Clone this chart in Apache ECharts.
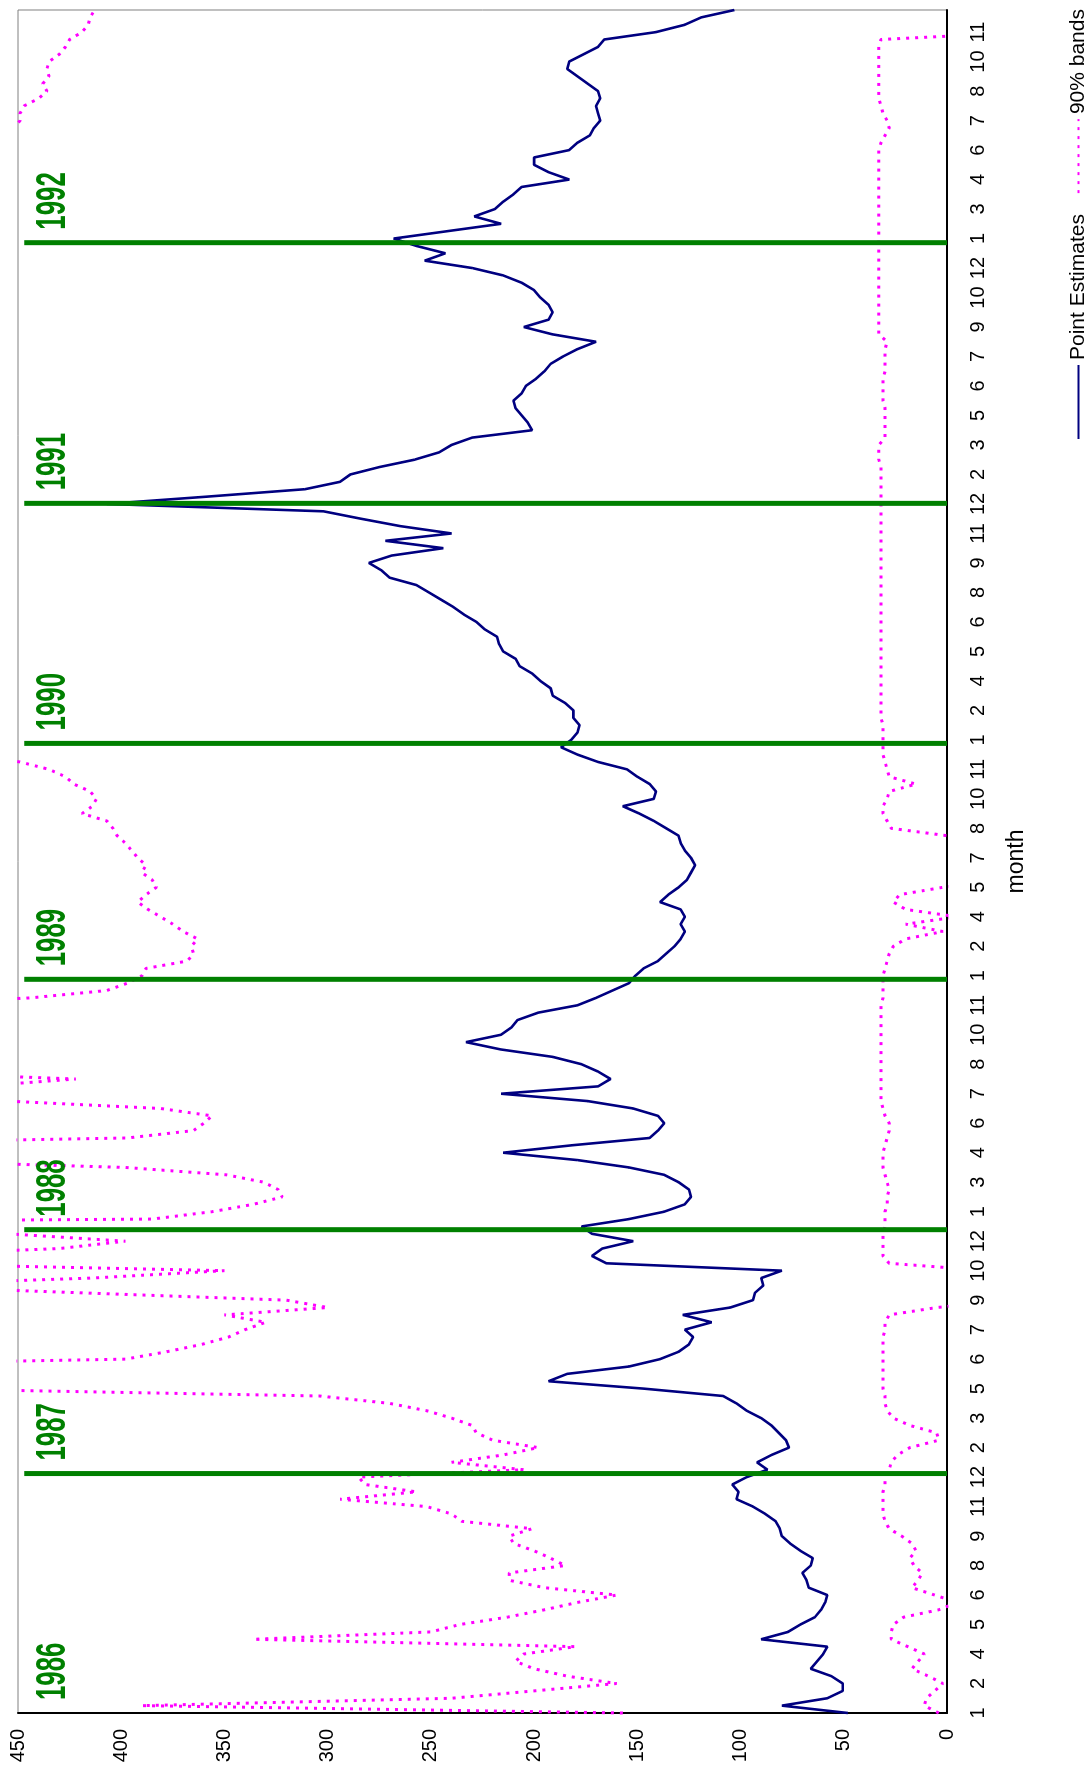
<!DOCTYPE html>
<html>
<head>
<meta charset="utf-8">
<script src="https://cdn.jsdelivr.net/npm/echarts@6/dist/echarts.min.js"></script>
<style>
  html, body { margin: 0; padding: 0; width: 1090px; height: 1771px; overflow: hidden; background: #fff; }
  /* The chart is laid out landscape and turned a quarter turn counter-clockwise */
  #chart { position: absolute; left: 0; top: 0; width: 1771px; height: 1090px;
           transform-origin: 0 0; transform: translateY(1771px) rotate(-90deg); }
</style>
</head>
<body>
<div id="chart"></div>
<script>
// Month shown under every label step of the observation axis (Jan 1986 .. Nov 1992)
const monthLabels = [
  1, 2, 4, 5, 6, 8, 9, 11, 12,
  2, 3, 5, 6, 7, 9, 10, 12,
  1, 3, 4, 6, 7, 8, 10, 11,
  1, 2, 4, 5, 7, 8, 10, 11,
  1, 2, 4, 5, 6, 8, 9, 11, 12,
  2, 3, 5, 6, 7, 9, 10, 12,
  1, 3, 4, 6, 7, 8, 10, 11
];
// observations per label step
const obsPerLabel = 4;

// Year boundaries, in label steps along the observation axis
const yearNames  = ['1986', '1987', '1988', '1989', '1990', '1991', '1992'];
const yearStarts = [0, 8.12, 16.39, 24.88, 32.88, 41.02, 49.86];

// Point estimates
const pointEstimates = [
  48, 80, 58, 50.5, 50.5, 56, 66, 63, 60, 58,
  90, 77, 71, 64, 61, 59, 58, 67, 68, 70,
  66, 65, 71, 76, 80, 81, 83, 88, 94, 102,
  101, 104, 97, 87, 92, 85, 76.5, 78, 81.5, 85,
  90, 97, 102, 108.5, 147, 193, 184, 154, 139, 130,
  125, 123, 127, 114, 128, 105, 94, 93, 89, 90,
  80, 165, 172, 167, 152, 172, 177, 154, 137, 127,
  124, 125, 130, 137, 154, 179, 215, 182, 144, 140,
  137, 140, 152, 174, 216, 169, 163, 169, 177, 191,
  216, 233, 216, 211, 208, 198, 179, 170, 162, 154,
  151, 147, 140, 136, 132, 129, 127, 129, 127, 129,
  139, 135, 130, 126, 124, 122, 124, 127, 129, 130,
  136, 142, 149, 157, 142, 141, 144, 150, 155, 169,
  179, 187, 182, 179, 178, 181, 181, 185, 191, 192,
  197, 201, 207, 209, 215, 217, 218, 224, 228, 234,
  239, 245, 251, 257, 270, 274, 280, 269, 244, 272,
  240, 265, 284, 302, 407, 358, 311, 294, 289, 275,
  258, 246, 240, 230, 201, 203, 206, 209, 210, 206,
  204, 199, 195, 192, 186, 179, 170, 191, 205, 193,
  191, 193, 197, 200, 206, 215, 230, 253, 243, 257,
  268, 242, 216, 229, 219, 215, 210, 206, 183, 193,
  200, 200, 183, 179, 173, 171, 168, 169, 170, 168,
  169, 174, 179, 184, 183, 176, 169, 166, 141, 127,
  119, 103
];

// Upper 90% band (null where it runs far above the scale)
const upperBand = [
  157, 390, 240, 200, 160, 184, 200, 209, 205, 180,
  336, 250, 236, 213, 195, 179, 160, 195, 212, 212,
  185, 192, 200, 210, 212, 201, 235, 240, 252, 294,
  257, 282, 285, 205, 240, 215, 198, 220, 228, 230,
  240, 252, 270, 304, 500, null, null, 600, 398, 378,
  361, 348, 340, 330, 350, 300, 320, 420, 520, 414,
  350, 520, 520, 430, 398, 455, 900, 385, 356, 336,
  322, 324, 331, 349, 398, 520, null, 600, 397, 365,
  360, 356, 381, 455, 900, 470, 422, 520, null, null,
  null, null, null, null, null, null, 520, 444, 407, 397,
  390, 388, 368, 365, 366, 363, 370, 375, 381, 387,
  392, 388, 383, 385, 390, 388, 392, 395, 398, 402,
  404, 407, 419, 414, 412, 415, 423, 427, 435, 449,
  470, null, null, null, null, null, null, null, null, null,
  null, null, null, null, null, null, null, null, null, null,
  null, null, null, null, null, null, null, null, null, null,
  null, null, null, null, null, null, null, null, null, null,
  null, null, null, null, null, null, null, null, null, null,
  null, null, null, null, null, null, null, null, null, null,
  null, null, null, null, null, null, null, null, null, null,
  null, null, null, null, null, null, null, null, null, null,
  null, null, null, null, 470, 452, 449, 449, 447, 440,
  436, 438, 435, 436, 435, 430, 427, 425, 419, 416,
  415, 413
];

// Lower 90% band (null where it runs far below zero)
const lowerBand = [
  4, 11, 10, 6, 2, 9, 17, 14, 11, 19,
  27, 27, 26, 21, 4, -5, 6, 17, 14, 12,
  16, 18, 15, 17, 22, 28, 30, 31, 31, 31,
  31, 30, 30, 28, 27, 24, 18, 4, 5, 18,
  26, 29, 30, 30, 31, 31, 31, 31, 31, 31,
  31, 31, 30, 30, 28, 5, -30, null, null, null,
  -20, 28, 31, 31, 31, 31, 30, 30, 30, 29,
  29, 28, 29, 30, 31, 31, 31, 30, 29, 28,
  28, 30, 31, 32, 32, 32, 32, 32, 32, 32,
  32, 32, 32, 32, 32, 32, 32, 31, 31, 31,
  31, 30, 29, 28, 26, 20, 2, 20, -5, 20,
  26, 23, 2, -30, null, null, null, null, -30, 0,
  27, 29, 31, 31, 29, 28, 15, 28, 29, 30,
  31, 31, 31, 31, 31, 32, 32, 32, 32, 32,
  32, 32, 32, 32, 32, 32, 32, 32, 32, 32,
  32, 32, 32, 32, 32, 32, 32, 32, 32, 32,
  32, 32, 32, 32, 32, 32, 32, 32, 32, 32,
  33, 33, 33, 30, 30, 30, 30, 30, 31, 31,
  31, 31, 30, 30, 30, 30, 29, 33, 33, 33,
  33, 33, 33, 33, 33, 33, 33, 33, 33, 33,
  33, 33, 33, 33, 33, 33, 33, 33, 33, 33,
  33, 33, 33, 32, 30, 28, 29, 31, 32, 33,
  33, 33, 33, 33, 33, 33, 33, 32, -40, null,
  null, null
];

const FONT = '"Liberation Sans", Arial, Helvetica, sans-serif';
const GREEN = '#008000';
const NAVY = '#000080';
const MAGENTA = '#FF00FF';
const yearLineTop = 447;     // value reached by the year separators
const yearLabelValue = 433;  // vertical centre of the year captions

const toXY = arr => arr.map((v, k) => [k / obsPerLabel, v]);
const xMax = (pointEstimates.length - 1) / obsPerLabel;

const bandStyle = { color: MAGENTA, width: 3, type: [3, 6], cap: 'butt' };

const chart = echarts.init(document.getElementById('chart'), null, { renderer: 'canvas' });

chart.setOption({
  animation: false,
  backgroundColor: '#ffffff',
  textStyle: { fontFamily: FONT },
  grid: {
    left: 58, right: 10, top: 18, bottom: 143,
    show: true, borderColor: '#808080', borderWidth: 1, backgroundColor: 'transparent'
  },
  legend: {
    data: ['Point Estimates', '90% bands'],
    left: 1331, top: 1068, width: 460, padding: 0,
    itemWidth: 74, itemHeight: 4, itemGap: 20,
    itemStyle: { opacity: 0 },
    textStyle: { fontFamily: FONT, fontSize: 21, color: '#000' }
  },
  xAxis: {
    type: 'value',
    min: 0, max: xMax,
    name: 'month', nameLocation: 'middle', nameGap: 58,
    nameTextStyle: { fontFamily: FONT, fontSize: 23, color: '#000' },
    axisLine: { show: true, onZero: false, lineStyle: { color: '#000', width: 2 } },
    axisTick: { show: false },
    splitLine: { show: false },
    axisLabel: {
      customValues: monthLabels.map((m, i) => i),
      margin: 21,
      fontFamily: FONT, fontSize: 20, color: '#000',
      formatter: v => {
        const i = Math.round(v);
        return Math.abs(v - i) < 1e-6 && monthLabels[i] != null ? String(monthLabels[i]) : '';
      }
    }
  },
  yAxis: {
    type: 'value',
    min: 0, max: 450, interval: 50,
    axisLine: { show: true, lineStyle: { color: '#000', width: 2 } },
    axisTick: { show: false },
    splitLine: { show: false },
    axisLabel: { margin: 16, fontFamily: FONT, fontSize: 20, color: '#000' }
  },
  series: [
    {
      name: '90% bands', type: 'line', data: toXY(upperBand),
      symbol: 'none', clip: true, z: 2,
      lineStyle: bandStyle, itemStyle: { color: MAGENTA }
    },
    {
      name: '90% bands', type: 'line', data: toXY(lowerBand),
      symbol: 'none', clip: true, z: 2,
      lineStyle: bandStyle, itemStyle: { color: MAGENTA }
    },
    {
      name: 'Point Estimates', type: 'line', data: toXY(pointEstimates),
      symbol: 'none', clip: true, z: 3,
      lineStyle: { color: NAVY, width: 2.6 },
      itemStyle: { color: NAVY }
    },
    {
      name: 'years', type: 'custom', silent: true, z: 10,
      data: yearStarts.map((t, i) => [t, 0, i]),
      encode: { x: 0, y: 1 },
      renderItem: (params, api) => {
        const t = api.value(0);
        const i = api.value(2);
        const base = api.coord([t, 0]);
        const top = api.coord([t, yearLineTop]);
        const lab = api.coord([t, yearLabelValue]);
        const children = [];
        if (i > 0) {
          children.push({
            type: 'line',
            shape: { x1: base[0], y1: base[1], x2: top[0], y2: top[1] },
            style: { stroke: GREEN, lineWidth: 5 }
          });
        }
        children.push({
          type: 'text',
          x: lab[0] + 13, y: lab[1],
          scaleX: 0.6, scaleY: 1,
          style: {
            text: yearNames[i],
            font: 'bold 43px ' + FONT,
            fill: GREEN, align: 'left', verticalAlign: 'middle'
          }
        });
        return { type: 'group', children };
      }
    }
  ]
});
</script>
</body>
</html>
